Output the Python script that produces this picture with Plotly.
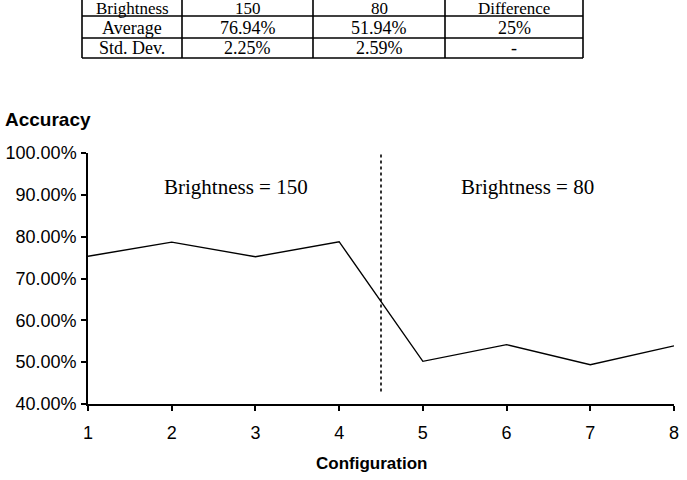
import plotly.graph_objects as go

# ---- data ----
configurations = [1, 2, 3, 4, 5, 6, 7, 8]
accuracy = [75.3, 78.7, 75.2, 78.8, 50.2, 54.2, 49.4, 53.9]
y_ticks = [40, 50, 60, 70, 80, 90, 100]
y_tick_labels = ["40.00%", "50.00%", "60.00%", "70.00%", "80.00%", "90.00%", "100.00%"]
split_at = 4.5
region_labels = ["Brightness = 150", "Brightness = 80"]
region_label_x = [2.77, 6.25]
region_label_y = 91.8

table_header = ["Brightness", "150", "80", "Difference"]
table_rows = [
    ["Average", "76.94%", "51.94%", "25%"],
    ["Std. Dev.", "2.25%", "2.59%", "-"],
]

# ---- layout geometry (pixels) ----
W, H = 687, 480
L, R, T, B = 88, 13, 153, 76
PW, PH = W - L - R, H - T - B


def px(x):
    return (x - L) / PW


def py(y):
    return (H - B - y) / PH


fig = go.Figure()
fig.add_trace(go.Scatter(
    x=configurations, y=accuracy, mode="lines",
    line=dict(color="black", width=1.4), showlegend=False, hoverinfo="x+y",
))

shapes = [dict(type="line", xref="x", yref="y", x0=split_at, x1=split_at,
               y0=43, y1=100, line=dict(color="black", width=1.6, dash="dot"))]
annotations = []
for txt, xx in zip(region_labels, region_label_x):
    annotations.append(dict(x=xx, y=region_label_y, xref="x", yref="y", text=txt,
                            showarrow=False,
                            font=dict(family="Liberation Serif", size=21, color="black")))

# ---- table drawn with shapes/annotations ----
col_edges = [82, 182, 313, 445, 583]
row_edges = [-6, 16, 38, 58]
row_text_y = [8, 28, 48.5]
for xe in col_edges:
    shapes.append(dict(type="line", xref="paper", yref="paper", x0=px(xe), x1=px(xe),
                       y0=py(row_edges[0]), y1=py(row_edges[-1]),
                       line=dict(color="black", width=1.6)))
for ye in row_edges[1:]:
    shapes.append(dict(type="line", xref="paper", yref="paper", x0=px(col_edges[0]),
                       x1=px(col_edges[-1]), y0=py(ye), y1=py(ye),
                       line=dict(color="black", width=1.6)))
all_rows = [table_header] + table_rows
for ri, row in enumerate(all_rows):
    yc = row_text_y[ri]
    for ci, cell in enumerate(row):
        xc = (col_edges[ci] + col_edges[ci + 1]) / 2
        annotations.append(dict(x=px(xc), y=py(yc), xref="paper", yref="paper",
                                text=cell, showarrow=False, xanchor="center",
                                yanchor="middle",
                                font=dict(family="Liberation Serif",
                                          size=17 if ri == 0 else 18, color="black")))

# axis titles
annotations.append(dict(x=px(3), y=py(120), xref="paper", yref="paper", text="<b>Accuracy</b>",
                        showarrow=False, xanchor="left", yanchor="middle",
                        font=dict(family="Liberation Sans", size=19, color="black")))
annotations.append(dict(x=px(371), y=py(463), xref="paper", yref="paper",
                        text="<b>Configuration</b>", showarrow=False, xanchor="center",
                        yanchor="middle",
                        font=dict(family="Liberation Sans", size=17, color="black")))

fig.update_layout(
    width=W, height=H,
    margin=dict(l=L, r=R, t=T, b=B, autoexpand=False),
    paper_bgcolor="white", plot_bgcolor="white",
    shapes=shapes, annotations=annotations,
    xaxis=dict(range=[1, 8], tickvals=configurations, showgrid=False, zeroline=False,
               showline=True, linecolor="black", linewidth=1.5, automargin=False,
               ticks="outside", ticklen=5, tickcolor="black", tickwidth=1.5,
               ticklabelstandoff=7,
               tickfont=dict(family="Liberation Sans", size=18, color="black")),
    yaxis=dict(range=[40, 100], tickvals=y_ticks, ticktext=y_tick_labels,
               showgrid=False, zeroline=False, showline=True, linecolor="black",
               linewidth=1.5, ticks="outside", ticklen=5, tickcolor="black", tickwidth=1.5,
               ticklabelstandoff=1, automargin=False,
               tickfont=dict(family="Liberation Sans", size=18, color="black")),
)

fig.write_html("out.html")
